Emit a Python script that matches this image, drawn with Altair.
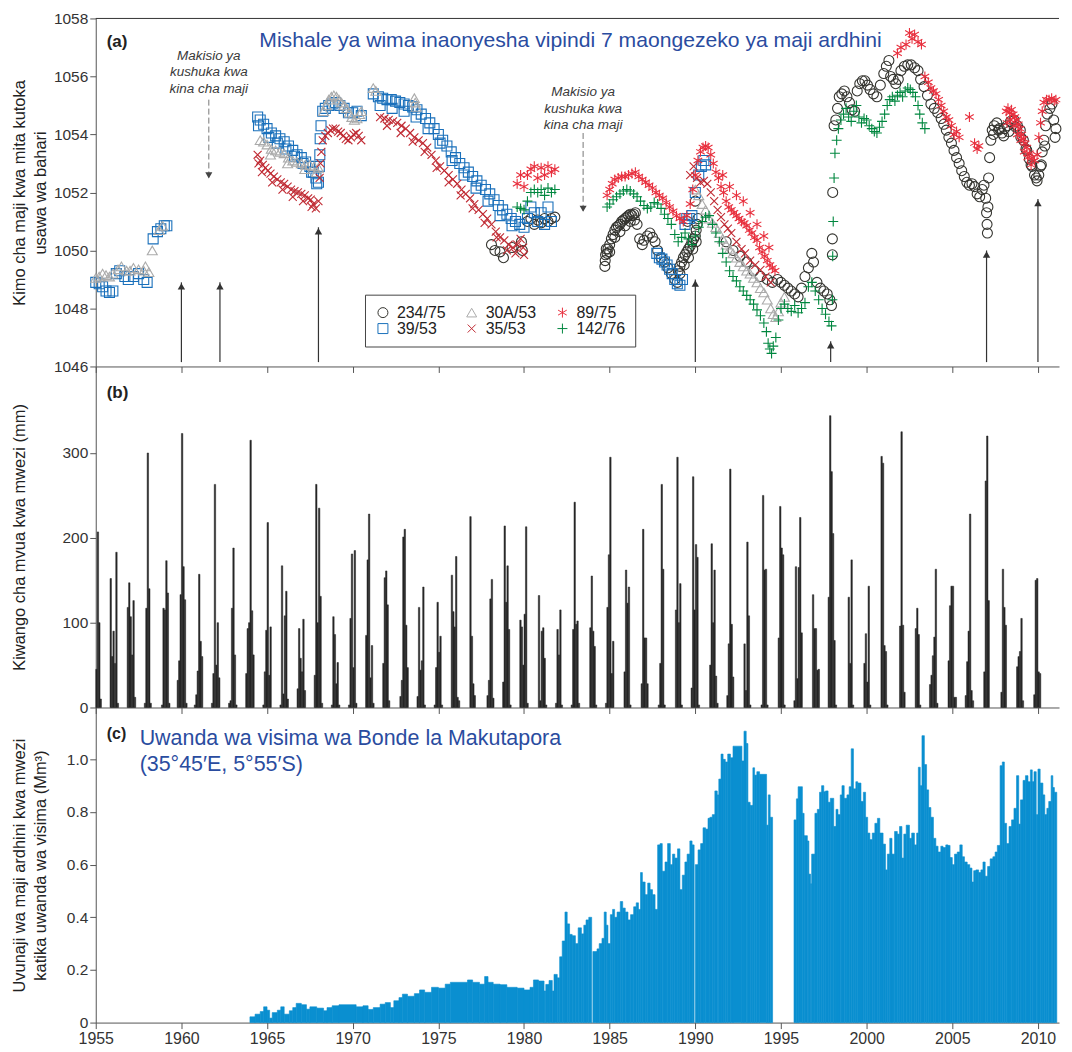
import altair as alt
import pandas as pd

FONT = "Liberation Sans, Arial, sans-serif"
W = 966
HA, HB, HC = 349, 342, 316
X0, X1 = 1955.0, 2011.23
XTICKS = list(range(1955, 2011, 5))

# ---------------- panel (a): groundwater levels (year, m a.s.l.) ----------------
well_234_75 = [
    (1978.1, 1050.2), (1978.3, 1050.0), (1978.6, 1049.95), (1978.8, 1049.75), (1979.3, 1050.1),
    (1979.85, 1050.3), (1979.9, 1050.0), (1980.2, 1051.0), (1980.4, 1051.1), (1980.6, 1050.9),
    (1980.8, 1051.05), (1981.0, 1050.95), (1981.2, 1051.1), (1981.4, 1051.0), (1981.6, 1051.1),
    (1981.8, 1051.15),
    (1984.72, 1049.45), (1984.74, 1049.65), (1984.76, 1049.85), (1984.8, 1050.05), (1984.85, 1049.9),
    (1984.9, 1050.05), (1985.0, 1050.2), (1985.1, 1050.4), (1985.2, 1050.55), (1985.3, 1050.7),
    (1985.4, 1050.8), (1985.5, 1050.85), (1985.6, 1050.9), (1985.7, 1051.0), (1985.8, 1051.05),
    (1985.9, 1051.1), (1986.0, 1051.15), (1986.1, 1051.2), (1986.2, 1051.25), (1986.3, 1051.2),
    (1986.4, 1051.25), (1986.5, 1051.3), (1986.6, 1050.9), (1986.75, 1050.4), (1986.9, 1050.2),
    (1985.0, 1049.95), (1985.3, 1050.45), (1985.6, 1050.65), (1985.9, 1050.85), (1986.2, 1051.0),
    (1986.45, 1051.05),
    (1987.0, 1050.35), (1987.2, 1050.5), (1987.35, 1050.6), (1987.5, 1050.45), (1987.65, 1050.3),
    (1987.8, 1050.0), (1988.0, 1049.75), (1988.2, 1049.6), (1988.4, 1049.4), (1988.6, 1049.2),
    (1988.8, 1049.0), (1988.95, 1048.9), (1989.0, 1049.3), (1989.1, 1049.45), (1989.2, 1049.6),
    (1989.3, 1049.75), (1989.4, 1049.85), (1989.5, 1049.95), (1989.6, 1050.05), (1989.7, 1050.15),
    (1989.8, 1050.3), (1989.9, 1050.4), (1990.0, 1050.5), (1990.05, 1050.7), (1990.1, 1050.9),
    (1990.15, 1051.1), (1989.55, 1051.0), (1990.0, 1051.7),
    (1989.1, 1049.2), (1989.35, 1049.5), (1989.6, 1049.75), (1989.85, 1050.05), (1990.05, 1050.3),
    (1991.8, 1050.3), (1992.2, 1050.0), (1992.6, 1049.8), (1993.0, 1049.6), (1993.4, 1049.3),
    (1993.8, 1049.1), (1994.2, 1049.0), (1994.5, 1048.9), (1994.8, 1049.0), (1995.0, 1048.9),
    (1995.2, 1048.8), (1995.4, 1048.7), (1995.6, 1048.6), (1995.8, 1048.5), (1996.0, 1048.4),
    (1996.2, 1048.7), (1996.4, 1049.1), (1996.6, 1049.4), (1996.8, 1049.9), (1996.9, 1049.6),
    (1997.1, 1048.9), (1997.3, 1048.7), (1997.5, 1048.6), (1997.7, 1048.5), (1997.85, 1048.3),
    (1997.95, 1048.1), (1998.0, 1049.85), (1998.0, 1050.4), (1998.02, 1052.0), (1998.1, 1054.3),
    (1998.2, 1054.5), (1998.3, 1054.9), (1998.4, 1055.3), (1998.55, 1055.4), (1998.7, 1055.5),
    (1998.85, 1055.3), (1999.0, 1055.1), (1999.15, 1054.85), (1999.3, 1054.8), (1999.45, 1055.5),
    (1999.6, 1055.75), (1999.75, 1055.85), (1999.9, 1055.85), (2000.05, 1055.7), (2000.2, 1055.55),
    (2000.4, 1055.4), (2000.6, 1055.3), (2000.8, 1055.7), (2001.0, 1056.1), (2001.15, 1056.35),
    (2001.3, 1056.55), (2001.4, 1056.0), (2001.55, 1055.9), (2001.7, 1055.75), (2001.85, 1055.9),
    (2002.0, 1056.2), (2002.2, 1056.35), (2002.4, 1056.4), (2002.6, 1056.4), (2002.8, 1056.3),
    (2003.0, 1056.2), (2003.15, 1055.9), (2003.35, 1055.65), (2003.55, 1055.35), (2003.75, 1055.05),
    (2003.95, 1054.9), (2004.15, 1054.75), (2004.35, 1054.55), (2004.5, 1054.35), (2004.65, 1054.15),
    (2004.8, 1053.9), (2004.95, 1053.7), (2005.1, 1053.45), (2005.25, 1053.2), (2005.4, 1053.0),
    (2005.55, 1052.75), (2005.7, 1052.55), (2005.85, 1052.35), (2006.0, 1052.25), (2006.15, 1052.3),
    (2006.3, 1052.2), (2006.45, 1051.95), (2006.6, 1051.85), (2006.75, 1052.1), (2006.85, 1052.25),
    (2006.95, 1051.8), (2007.0, 1051.3), (2007.03, 1050.9), (2007.05, 1050.6), (2007.08, 1051.5),
    (2007.12, 1052.5), (2007.18, 1053.2), (2007.25, 1053.8), (2007.33, 1054.15), (2007.45, 1054.3),
    (2007.6, 1054.4), (2007.75, 1054.2), (2007.9, 1054.05), (2008.05, 1054.2), (2008.2, 1054.3),
    (2008.4, 1054.45), (2008.6, 1054.5), (2008.8, 1054.3), (2008.97, 1054.15), (2009.15, 1053.8),
    (2009.35, 1053.45), (2009.5, 1053.15), (2009.65, 1052.9), (2009.8, 1052.6), (2009.95, 1052.4),
    (2010.05, 1052.6), (2010.15, 1052.9), (2010.25, 1053.4), (2010.35, 1053.8), (2010.45, 1054.3),
    (2010.55, 1054.7), (2010.7, 1054.9), (2010.82, 1055.05), (2010.92, 1054.5), (2011.0, 1053.9),
    (2011.05, 1054.2),
    (2007.4, 1054.0), (2007.7, 1054.15), (2008.0, 1053.95), (2008.3, 1054.1), (2008.7, 1054.25),
    (2009.0, 1053.9), (2009.3, 1053.5), (2009.6, 1052.95), (2009.9, 1052.5), (2010.2, 1052.95),
    (2010.4, 1053.6),
]

well_39_53 = [
    (1955.0, 1048.9), (1955.2, 1048.85), (1955.4, 1048.75), (1955.6, 1048.6), (1955.8, 1048.55),
    (1956.0, 1048.6), (1956.2, 1049.2), (1956.4, 1049.3), (1956.7, 1049.1), (1956.9, 1049.0),
    (1957.2, 1049.1), (1957.5, 1049.2), (1957.8, 1049.0), (1958.0, 1048.9), (1958.35, 1050.4),
    (1958.6, 1050.65), (1958.8, 1050.75), (1959.0, 1050.85), (1959.15, 1050.85),
    (1964.45, 1054.6), (1964.6, 1054.5), (1964.8, 1054.35), (1965.0, 1054.2), (1965.25, 1054.05),
    (1965.5, 1053.95), (1965.75, 1053.85), (1966.0, 1053.75), (1966.25, 1053.6), (1966.5, 1053.45),
    (1966.75, 1053.3), (1967.0, 1053.2), (1967.25, 1053.05), (1967.5, 1052.9), (1967.7, 1052.7),
    (1967.85, 1052.5), (1968.0, 1052.35), (1968.05, 1052.9), (1968.08, 1053.3), (1968.1, 1053.85),
    (1968.15, 1054.3), (1968.25, 1054.8), (1968.4, 1054.9), (1968.6, 1055.0), (1968.8, 1055.05),
    (1969.0, 1055.1), (1969.25, 1055.0), (1969.5, 1054.9), (1969.75, 1054.75), (1970.0, 1054.75),
    (1970.25, 1054.8), (1970.5, 1054.65),
    (1964.5, 1054.3), (1965.1, 1053.9), (1965.6, 1053.7), (1966.1, 1053.5), (1966.6, 1053.25),
    (1967.1, 1053.0), (1967.6, 1052.7), (1967.9, 1052.3),
    (1971.2, 1055.4), (1971.5, 1055.3), (1971.75, 1055.25), (1972.0, 1055.2), (1972.25, 1055.2),
    (1972.5, 1055.15), (1972.75, 1055.1), (1973.0, 1055.05), (1973.25, 1055.0), (1973.5, 1054.95),
    (1973.75, 1054.85), (1974.0, 1054.7), (1974.25, 1054.55), (1974.5, 1054.4), (1974.75, 1054.2),
    (1975.0, 1054.0), (1975.25, 1053.8), (1975.5, 1053.6), (1975.75, 1053.4), (1976.0, 1053.2),
    (1976.25, 1053.0), (1976.5, 1052.85), (1976.75, 1052.7), (1977.0, 1052.55), (1977.25, 1052.4),
    (1977.5, 1052.25), (1977.75, 1052.1), (1978.0, 1051.95), (1978.25, 1051.75), (1978.5, 1051.55),
    (1978.75, 1051.4), (1979.0, 1051.25), (1979.25, 1051.1), (1979.5, 1051.0), (1979.75, 1050.9),
    (1980.0, 1050.8), (1980.2, 1051.1), (1980.4, 1051.5), (1980.6, 1051.3), (1980.8, 1051.0),
    (1981.0, 1051.3), (1981.2, 1050.9), (1981.4, 1051.5), (1981.6, 1051.0),
    (1971.6, 1055.0), (1972.3, 1054.9), (1973.0, 1054.8), (1973.7, 1054.6), (1974.4, 1054.2),
    (1975.1, 1053.7), (1975.8, 1053.1), (1976.5, 1052.6), (1977.2, 1052.15), (1977.9, 1051.7),
    (1978.6, 1051.2), (1979.3, 1050.85),
    (1987.75, 1049.9), (1987.9, 1049.75), (1988.05, 1049.7), (1988.2, 1049.6), (1988.35, 1049.5),
    (1988.5, 1049.35), (1988.65, 1049.2), (1988.8, 1049.0), (1988.95, 1048.85), (1989.1, 1048.8),
    (1989.25, 1049.0), (1989.4, 1050.9), (1989.5, 1051.1), (1989.65, 1051.1), (1989.8, 1051.2),
    (1990.0, 1052.0), (1990.2, 1052.6), (1990.35, 1052.9), (1990.5, 1053.1), (1990.6, 1052.95),
]

well_30A_53 = [
    (1955.0, 1049.05), (1955.2, 1049.1), (1955.4, 1049.2), (1955.6, 1049.15), (1955.8, 1049.1),
    (1956.0, 1049.2), (1956.3, 1049.35), (1956.5, 1049.45), (1956.8, 1049.3), (1957.0, 1049.3),
    (1957.2, 1049.4), (1957.5, 1049.35), (1957.8, 1049.3), (1957.9, 1049.45), (1958.1, 1049.25),
    (1958.3, 1050.0), (1958.7, 1050.7), (1958.9, 1050.85),
    (1964.6, 1053.8), (1964.8, 1053.75), (1965.0, 1053.65), (1965.25, 1053.5), (1965.5, 1053.45),
    (1965.75, 1053.4), (1966.0, 1053.35), (1966.25, 1053.2), (1966.5, 1053.1), (1966.75, 1053.05),
    (1967.0, 1053.0), (1967.25, 1052.95), (1967.5, 1052.95), (1967.75, 1052.9), (1968.0, 1052.85),
    (1965.2, 1053.3), (1966.2, 1053.0), (1967.2, 1052.8), (1967.9, 1052.7),
    (1968.3, 1054.8), (1968.45, 1055.0), (1968.6, 1055.2), (1968.75, 1055.3), (1968.9, 1055.35),
    (1969.05, 1055.3), (1969.2, 1055.2), (1969.35, 1055.1), (1969.5, 1055.0), (1969.65, 1054.9),
    (1969.8, 1054.75), (1969.95, 1054.6), (1970.1, 1054.5), (1970.25, 1054.55), (1970.4, 1054.7),
    (1970.5, 1054.8),
    (1971.2, 1055.6), (1971.35, 1055.5), (1973.6, 1055.25), (1973.65, 1055.1), (1973.7, 1054.95),
    (1990.0, 1052.1), (1990.2, 1051.9), (1990.4, 1051.6), (1990.6, 1051.4), (1990.8, 1051.1),
    (1991.0, 1050.95), (1991.2, 1050.8), (1991.4, 1050.6), (1991.6, 1050.4), (1991.8, 1050.2),
    (1992.0, 1050.05), (1992.2, 1049.9), (1992.4, 1049.75), (1992.6, 1049.6), (1992.8, 1049.45),
    (1993.0, 1049.3), (1993.2, 1049.2), (1993.4, 1049.05), (1993.6, 1048.9), (1993.8, 1048.7),
    (1994.0, 1048.55), (1994.2, 1048.3), (1994.4, 1048.0), (1994.55, 1047.8), (1994.7, 1047.7),
    (1994.85, 1047.9), (1995.0, 1048.2), (1995.2, 1048.4),
]

well_35_53 = [
    (1964.45, 1053.3), (1964.6, 1053.1), (1964.75, 1052.95), (1964.9, 1052.85), (1965.05, 1052.75),
    (1965.2, 1052.65), (1965.4, 1052.55), (1965.6, 1052.45), (1965.8, 1052.35), (1966.0, 1052.3),
    (1966.2, 1052.2), (1966.4, 1052.1), (1966.6, 1052.05), (1966.8, 1052.0), (1967.0, 1051.95),
    (1967.2, 1051.9), (1967.4, 1051.8), (1967.55, 1051.75), (1967.7, 1051.6), (1967.85, 1051.45),
    (1968.0, 1051.7), (1968.07, 1052.5), (1968.12, 1053.0), (1968.17, 1053.4), (1968.25, 1053.8),
    (1968.4, 1053.95), (1968.55, 1054.05), (1968.7, 1054.15), (1968.85, 1054.2), (1969.0, 1054.2),
    (1969.15, 1054.1), (1969.3, 1054.05), (1969.45, 1053.95), (1969.6, 1053.85), (1969.75, 1053.8),
    (1969.9, 1053.9), (1970.05, 1054.0), (1970.2, 1054.05), (1970.35, 1053.95), (1970.5, 1053.8),
    (1964.5, 1053.0), (1964.7, 1052.7), (1965.3, 1052.35), (1965.9, 1052.1), (1966.5, 1051.85),
    (1967.1, 1051.7), (1967.6, 1051.5),
    (1971.6, 1054.6), (1971.85, 1054.55), (1972.1, 1054.5), (1972.35, 1054.45), (1972.6, 1054.4),
    (1972.85, 1054.3), (1973.1, 1054.2), (1973.35, 1054.05), (1973.6, 1053.9), (1973.85, 1053.8),
    (1974.1, 1053.7), (1974.35, 1053.55), (1974.6, 1053.3), (1974.85, 1053.1), (1975.1, 1052.9),
    (1975.35, 1052.75), (1975.6, 1052.6), (1975.85, 1052.45), (1976.1, 1052.3), (1976.35, 1052.1),
    (1976.6, 1051.95), (1976.85, 1051.8), (1977.1, 1051.6), (1977.35, 1051.4), (1977.6, 1051.25),
    (1977.85, 1051.1), (1978.1, 1050.9), (1978.35, 1050.65), (1978.6, 1050.45), (1978.85, 1050.35),
    (1979.1, 1050.2), (1979.35, 1050.1), (1979.6, 1050.2), (1979.8, 1050.4), (1979.95, 1050.1),
    (1980.0, 1049.85),
    (1972.0, 1054.3), (1972.8, 1054.05), (1973.5, 1053.75), (1974.2, 1053.4), (1974.9, 1052.85),
    (1975.6, 1052.35), (1976.3, 1051.9), (1977.0, 1051.45), (1977.7, 1050.95), (1978.4, 1050.45),
    (1979.0, 1050.0), (1979.5, 1049.9),
    (1989.7, 1052.6), (1989.9, 1052.9), (1990.1, 1052.5), (1990.3, 1052.35), (1990.5, 1052.4),
    (1990.7, 1052.3), (1990.9, 1052.0), (1991.1, 1051.7), (1991.3, 1051.4), (1991.5, 1051.15),
    (1991.7, 1050.9), (1991.9, 1050.75), (1992.1, 1050.6), (1992.4, 1050.3), (1992.7, 1050.05),
    (1992.9, 1049.9), (1993.2, 1049.65), (1993.5, 1049.5), (1993.8, 1049.33), (1994.1, 1049.1),
    (1994.4, 1048.9),
]

well_89_75 = [
    (1979.6, 1052.3), (1979.8, 1052.6), (1980.0, 1052.2), (1980.2, 1052.6), (1980.4, 1052.8),
    (1980.6, 1052.9), (1980.8, 1052.5), (1981.0, 1052.85), (1981.2, 1052.6), (1981.4, 1052.9),
    (1981.6, 1052.7), (1981.8, 1052.8),
    (1984.85, 1051.9), (1985.0, 1052.1), (1985.15, 1052.3), (1985.3, 1052.45), (1985.5, 1052.5),
    (1985.7, 1052.55), (1985.9, 1052.55), (1986.1, 1052.6), (1986.3, 1052.65), (1986.5, 1052.7),
    (1986.7, 1052.55), (1986.9, 1052.45), (1987.1, 1052.35), (1987.3, 1052.25), (1987.5, 1052.15),
    (1987.7, 1052.0), (1987.9, 1051.9), (1988.1, 1051.8), (1988.3, 1051.65), (1988.5, 1051.5),
    (1988.7, 1051.35), (1988.9, 1051.2), (1989.1, 1051.1), (1989.3, 1051.0), (1989.5, 1051.2),
    (1989.7, 1051.6), (1989.85, 1052.1), (1990.0, 1052.6), (1990.15, 1053.1), (1990.3, 1053.4),
    (1990.45, 1053.55), (1990.6, 1053.6), (1990.75, 1053.55), (1990.9, 1053.3), (1991.05, 1053.0),
    (1991.2, 1052.7), (1991.35, 1052.5), (1991.5, 1052.2), (1991.65, 1052.0), (1991.8, 1051.7),
    (1991.95, 1051.5), (1992.1, 1051.4), (1992.25, 1051.3), (1992.4, 1051.2), (1992.55, 1051.1),
    (1992.7, 1051.0), (1992.85, 1050.95), (1993.0, 1050.85), (1993.15, 1050.7), (1993.3, 1050.6),
    (1993.45, 1050.45), (1993.6, 1050.35), (1993.75, 1050.1), (1993.9, 1049.95), (1994.05, 1049.8),
    (1994.2, 1049.65), (1994.35, 1049.5), (1994.5, 1049.4), (1994.65, 1049.3),
    (1991.6, 1052.6), (1992.0, 1052.2), (1992.4, 1051.9), (1992.8, 1051.7), (1993.2, 1051.3),
    (1993.6, 1050.9), (1994.0, 1050.5), (1994.3, 1050.1),
    (2001.8, 1056.8), (2002.0, 1057.0), (2002.3, 1057.1), (2002.5, 1057.5), (2002.65, 1057.3),
    (2002.8, 1057.45), (2003.0, 1057.2), (2003.2, 1057.1), (2003.4, 1056.0), (2003.6, 1055.8),
    (2003.75, 1055.6), (2003.9, 1055.5), (2004.05, 1055.4), (2004.2, 1055.2), (2004.35, 1055.0),
    (2004.5, 1054.8), (2004.65, 1054.6), (2004.8, 1054.5), (2004.95, 1054.3), (2005.1, 1054.0),
    (2005.25, 1054.1), (2005.4, 1053.9), (2006.0, 1054.6), (2006.3, 1053.7), (2006.45, 1053.5),
    (2006.55, 1053.6),
    (2008.15, 1054.8), (2008.25, 1054.9), (2008.35, 1054.75), (2008.45, 1054.85), (2008.55, 1054.7),
    (2008.65, 1054.6), (2008.75, 1054.5), (2008.85, 1054.35), (2008.95, 1054.2), (2009.05, 1054.0),
    (2009.15, 1053.85), (2009.25, 1053.7), (2009.35, 1053.55), (2009.5, 1053.35), (2009.65, 1053.2),
    (2009.8, 1053.1), (2009.95, 1053.3), (2010.05, 1053.9), (2010.15, 1054.4), (2010.25, 1054.8),
    (2010.35, 1055.1), (2010.5, 1055.2), (2010.65, 1055.2), (2010.8, 1055.25), (2010.95, 1055.15),
    (2011.05, 1055.2),
    (2008.2, 1054.4), (2008.4, 1054.5), (2008.6, 1054.3), (2008.8, 1054.0), (2009.0, 1053.8),
    (2009.2, 1053.4), (2009.4, 1053.2), (2009.6, 1052.95),
]

well_142_76 = [
    (1979.6, 1051.5), (1979.8, 1051.45), (1980.0, 1051.4), (1980.2, 1051.7), (1980.4, 1052.0),
    (1980.6, 1052.1), (1980.8, 1052.0), (1981.0, 1052.1), (1981.2, 1051.9), (1981.4, 1052.15),
    (1981.6, 1052.0), (1981.8, 1052.1),
    (1984.85, 1051.5), (1985.0, 1051.6), (1985.2, 1051.75), (1985.4, 1051.85), (1985.6, 1051.95),
    (1985.8, 1052.05), (1986.0, 1052.1), (1986.2, 1052.05), (1986.4, 1051.95), (1986.6, 1051.85),
    (1986.8, 1051.7), (1987.0, 1051.55), (1987.2, 1051.45), (1987.4, 1051.5), (1987.6, 1051.65),
    (1987.8, 1051.6), (1988.0, 1051.45), (1988.2, 1051.25), (1988.4, 1051.1), (1988.6, 1050.9),
    (1988.8, 1050.55), (1989.0, 1050.3), (1989.2, 1050.45), (1989.4, 1050.6), (1989.6, 1050.4),
    (1989.8, 1050.2), (1990.0, 1050.5), (1990.2, 1050.8), (1990.4, 1051.0), (1990.6, 1051.15),
    (1990.8, 1051.2), (1991.0, 1050.9), (1991.2, 1050.6), (1991.4, 1050.3), (1991.6, 1049.9),
    (1991.8, 1049.6), (1992.0, 1049.3), (1992.2, 1049.1), (1992.4, 1048.95), (1992.6, 1048.75),
    (1992.8, 1048.6), (1993.0, 1048.45), (1993.2, 1048.3), (1993.4, 1048.15), (1993.6, 1047.95),
    (1993.8, 1047.75), (1994.0, 1047.5), (1994.15, 1047.2), (1994.25, 1046.8), (1994.35, 1046.6),
    (1994.45, 1046.45), (1994.55, 1046.7), (1994.7, 1047.0), (1994.85, 1047.6), (1995.0, 1048.0),
    (1995.2, 1048.15), (1995.4, 1048.0), (1995.6, 1047.9), (1995.8, 1048.1), (1996.0, 1047.85),
    (1996.2, 1048.0), (1996.4, 1048.2), (1996.6, 1048.75), (1996.8, 1048.9), (1997.0, 1048.6),
    (1997.2, 1048.3), (1997.4, 1048.0), (1997.6, 1047.8), (1997.8, 1047.55), (1997.95, 1047.4),
    (1998.0, 1048.3), (1998.02, 1049.8), (1998.05, 1051.0), (1998.1, 1052.5), (1998.15, 1053.35),
    (1998.25, 1053.8), (1998.35, 1054.2), (1998.5, 1054.5), (1998.65, 1054.7), (1998.8, 1054.9),
    (1998.95, 1054.6), (1999.1, 1054.45), (1999.25, 1054.8), (1999.4, 1055.0), (1999.55, 1054.6),
    (1999.7, 1054.4), (1999.85, 1054.55), (2000.0, 1054.5), (2000.15, 1054.3), (2000.3, 1054.2),
    (2000.45, 1054.1), (2000.6, 1054.05), (2000.75, 1054.25), (2000.9, 1054.45), (2001.05, 1054.7),
    (2001.2, 1055.0), (2001.35, 1055.2), (2001.5, 1055.3), (2001.65, 1055.15), (2001.8, 1055.35),
    (2001.95, 1055.45), (2002.1, 1055.3), (2002.25, 1055.5), (2002.4, 1055.6), (2002.55, 1055.55),
    (2002.7, 1055.45), (2002.85, 1055.3), (2003.0, 1055.0), (2003.1, 1054.7), (2003.25, 1054.4),
    (2003.4, 1054.2),
]

legend_order = ["234/75", "39/53", "30A/53", "35/53", "89/75", "142/76"]
well_colors = ["#34342f", "#1a70bb", "#ababab", "#c02a33", "#e8303e", "#00873f"]
well_shapes = [
    "circle",
    "square",
    "triangle-up",
    "M-0.8,-0.8L0.8,0.8M-0.8,0.8L0.8,-0.8",
    "M0,-1L0,1M-0.87,-0.5L0.87,0.5M-0.87,0.5L0.87,-0.5",
    "M-1,0L1,0M0,-1L0,1",
]

# recharge arrows (year, tip level) and estimated-decline dashed arrows
arrow_year = [1960.0, 1962.25, 1968.0, 1990.0, 1997.9, 2007.0, 2010.0]
arrow_tip = [1048.9, 1048.9, 1050.8, 1049.0, 1046.87, 1050.0, 1051.77]
arrow_base = 1046.15
dash_year = [1961.6, 1983.45]
dash_top = [1055.2, 1054.05]
dash_tip = [1052.45, 1051.3]
note_level = [1056.95, 1055.7]
note_text = "Makisio ya\nkushuka kwa\nkina cha maji"

# ---------------- panel (b): monthly rainfall (mm) ----------------
rain_start = [(1955, 1), (1955, 11), (1956, 11), (1957, 11), (1958, 11), (1959, 10), (1960, 10),
              (1961, 10), (1962, 10), (1963, 10), (1964, 10), (1965, 10), (1966, 10), (1967, 10),
              (1968, 10), (1969, 10), (1970, 10), (1971, 10), (1972, 10), (1973, 10), (1974, 10),
              (1975, 10), (1976, 11), (1977, 11), (1978, 10), (1979, 10), (1980, 11), (1981, 11),
              (1982, 10), (1983, 11), (1984, 10), (1985, 11), (1986, 11), (1987, 11), (1988, 11),
              (1989, 10), (1990, 11), (1991, 11), (1992, 11), (1993, 11), (1994, 11), (1995, 10),
              (1996, 11), (1997, 10), (1998, 12), (1999, 11), (2000, 11), (2001, 12), (2002, 11),
              (2003, 9), (2004, 10), (2005, 10), (2006, 11), (2007, 11), (2008, 10), (2009, 10)]
rain_mm = [
    [45, 207, 100, 10], [152, 60, 90, 52, 183, 5], [118, 147, 107, 62, 126, 12], [5, 117, 300, 140, 5],
    [3, 117, 115, 173, 135, 5], [32, 55, 133, 323, 166, 127, 5], [3, 15, 43, 157, 78, 60],
    [5, 40, 263, 50, 100, 35], [5, 8, 117, 188, 62, 3], [40, 93, 100, 315, 114, 62],
    [3, 42, 91, 218, 38, 95], [3, 167, 16, 108, 137, 10], [22, 93, 58, 42, 104, 20],
    [38, 263, 100, 235, 131, 5], [3, 107, 86, 28, 53, 3], [3, 105, 181, 47, 185, 5],
    [85, 174, 228, 35, 73, 5], [52, 153, 161, 121, 8], [13, 32, 201, 210, 97, 47],
    [13, 118, 44, 55, 142, 3], [3, 47, 124, 65, 84, 3], [156, 113, 95, 178, 12, 8],
    [225, 84, 28, 14], [14, 32, 128, 151, 11], [30, 214, 124, 167, 92, 3], [103, 95, 50, 110, 213, 5],
    [132, 8, 90, 94, 58, 3], [5, 92, 62, 115, 3], [3, 92, 242, 98, 102, 5], [94, 155, 90, 72, 3],
    [5, 118, 180, 295, 40, 78], [42, 162, 123, 142, 3], [28, 210, 82, 82, 28], [3, 52, 263, 163, 3],
    [115, 295, 100, 146, 3], [23, 272, 115, 192, 177, 3], [50, 193, 100, 162, 37, 5],
    [14, 75, 281, 98, 36], [75, 20, 195, 108, 3], [3, 250, 162, 163, 3], [82, 237, 188, 180, 3],
    [8, 166, 34, 165, 224, 88], [133, 93, 93, 44, 45], [130, 344, 278, 205, 79, 3], [130, 52, 174, 3],
    [52, 87, 30, 143, 3], [296, 288, 73, 66, 3], [96, 325, 97, 18], [93, 117, 86, 3],
    [27, 38, 61, 83, 163, 5], [55, 120, 143, 143, 12, 12], [14, 54, 90, 228, 20, 8],
    [42, 267, 320, 126], [18, 163, 118, 97], [48, 60, 66, 105, 8], [15, 150, 152, 42, 40],
]

# ---------------- panel (c): monthly abstraction (Mm3), (period start, value) ----------------
abstraction = [
    (1964.0, 0.022), (1964.3, 0.032), (1964.6, 0.042), (1964.8, 0.06), (1965.0, 0.047), (1965.15, 0.017),
    (1965.3, 0.038), (1965.6, 0.047), (1965.8, 0.06), (1966.0, 0.032), (1966.3, 0.045), (1966.5, 0.057),
    (1966.7, 0.073), (1967.0, 0.068), (1967.3, 0.051), (1967.5, 0.06), (1967.9, 0.055), (1968.3, 0.045),
    (1968.5, 0.057), (1968.8, 0.064), (1969.2, 0.068), (1970.2, 0.06), (1970.6, 0.064), (1970.9, 0.05),
    (1971.2, 0.057), (1971.6, 0.07), (1971.9, 0.076), (1972.2, 0.057), (1972.4, 0.083), (1972.7, 0.095),
    (1972.9, 0.108), (1973.2, 0.10), (1973.6, 0.11), (1973.9, 0.124), (1974.2, 0.115), (1974.6, 0.134),
    (1975.0, 0.131), (1975.4, 0.146), (1975.7, 0.153), (1976.7, 0.162), (1977.0, 0.153), (1977.4, 0.146),
    (1977.7, 0.175), (1977.9, 0.153), (1978.2, 0.146), (1978.6, 0.144), (1979.0, 0.134), (1979.6, 0.131),
    (1980.0, 0.124), (1980.35, 0.134), (1980.55, 0.162), (1980.85, 0.158), (1981.17, 0.12),
    (1981.27, 0.145), (1981.46, 0.16), (1981.65, 0.12), (1981.75, 0.183), (1981.94, 0.17),
    (1982.08, 0.25), (1982.23, 0.31), (1982.39, 0.42), (1982.52, 0.375), (1982.66, 0.335),
    (1982.81, 0.33), (1983.0, 0.30), (1983.16, 0.36), (1983.35, 0.337), (1983.49, 0.37),
    (1983.62, 0.39), (1983.78, 0.40), (1983.95, None), (1984.02, 0.27), (1984.26, 0.28),
    (1984.39, 0.30), (1984.55, 0.32), (1984.68, 0.42), (1984.8, 0.37), (1984.9, 0.30),
    (1985.04, 0.41), (1985.17, 0.43), (1985.29, 0.40), (1985.43, 0.42), (1985.62, 0.46),
    (1985.76, 0.435), (1985.91, 0.42), (1986.07, 0.39), (1986.22, 0.41), (1986.4, 0.44),
    (1986.55, 0.455), (1986.68, 0.43), (1986.8, 0.57), (1986.91, 0.534), (1987.07, 0.486),
    (1987.22, 0.53), (1987.36, 0.505), (1987.5, 0.486), (1987.65, 0.43), (1987.8, 0.675),
    (1987.94, 0.68), (1988.07, 0.575), (1988.23, 0.61), (1988.38, 0.68), (1988.54, 0.60),
    (1988.67, 0.64), (1988.8, 0.625), (1988.96, 0.66), (1989.1, 0.505), (1989.24, 0.56),
    (1989.39, 0.61), (1989.52, 0.64), (1989.68, 0.69), (1989.81, 0.675), (1989.93, None),
    (1990.0, 0.60), (1990.16, 0.656), (1990.31, 0.68), (1990.45, 0.74), (1990.6, 0.735),
    (1990.74, 0.776), (1990.85, 0.78), (1990.99, 0.79), (1991.14, 0.88), (1991.28, 0.865),
    (1991.37, 0.925), (1991.5, 1.02), (1991.62, 1.00), (1991.75, 0.99), (1991.89, 1.02),
    (1992.05, 1.006), (1992.2, 1.05), (1992.72, 0.994), (1992.84, 1.107), (1992.97, 1.06),
    (1993.07, 0.837), (1993.2, 0.825), (1993.36, 0.968), (1993.46, 0.94), (1993.59, 0.953),
    (1993.75, 0.943), (1994.16, 0.75), (1994.26, 0.865), (1994.37, 0.78), (1994.51, None),
    (1995.76, 0.77), (1995.9, 0.85), (1996.0, 0.896), (1996.25, 0.795), (1996.35, 0.71),
    (1996.54, 0.69), (1996.63, 0.564), (1996.73, 0.527), (1996.79, 0.64), (1996.98, 0.795),
    (1997.12, 0.81), (1997.25, 0.875), (1997.37, 0.90), (1997.5, 0.877), (1997.6, 0.88),
    (1997.75, 0.837), (1997.88, 0.852), (1998.08, 0.745), (1998.21, 0.81), (1998.33, 0.79),
    (1998.46, 0.865), (1998.56, 0.90), (1998.69, 0.852), (1998.85, 0.865), (1998.98, 0.896),
    (1999.1, 1.04), (1999.23, 0.888), (1999.37, 0.915), (1999.48, 0.91), (1999.67, 0.84),
    (1999.81, 0.875), (1999.94, 0.78), (2000.06, 0.72), (2000.19, 0.695), (2000.33, 0.72),
    (2000.48, 0.757), (2000.63, 0.776), (2000.77, 0.72), (2000.96, 0.678), (2001.1, 0.58),
    (2001.21, 0.64), (2001.35, 0.70), (2001.48, 0.64), (2001.63, 0.726), (2001.79, 0.716),
    (2001.92, 0.745), (2002.06, 0.625), (2002.17, 0.716), (2002.31, 0.75), (2002.5, 0.70),
    (2002.63, 0.72), (2002.79, 0.675), (2002.92, 0.72), (2003.02, 0.97), (2003.13, 0.90),
    (2003.23, 1.09), (2003.37, 0.98), (2003.5, 0.884), (2003.62, 0.817), (2003.75, 0.78),
    (2003.9, 0.70), (2004.04, 0.67), (2004.17, 0.648), (2004.33, 0.67), (2004.46, 0.665),
    (2004.62, 0.675), (2004.75, 0.673), (2004.87, 0.627), (2005.0, 0.60), (2005.13, 0.64),
    (2005.29, 0.648), (2005.44, 0.675), (2005.58, 0.63), (2005.71, 0.61), (2005.87, 0.60),
    (2006.02, 0.587), (2006.15, 0.534), (2006.25, 0.577), (2006.38, 0.58), (2006.54, 0.57),
    (2006.67, 0.58), (2006.79, 0.61), (2006.92, 0.556), (2007.06, 0.593), (2007.21, 0.622),
    (2007.37, 0.63), (2007.5, 0.648), (2007.63, 0.673), (2007.79, 0.976), (2007.92, 0.99),
    (2008.04, 0.757), (2008.17, 0.68), (2008.31, 0.745), (2008.46, 0.77), (2008.6, 0.814),
    (2008.75, 0.938), (2008.88, 0.754), (2008.98, 0.846), (2009.13, 0.92), (2009.27, 0.938),
    (2009.42, 0.915), (2009.56, 0.96), (2009.67, 0.915), (2009.77, 0.953), (2009.9, 0.79),
    (2010.0, 0.963), (2010.13, 0.91), (2010.29, 0.865), (2010.4, 0.79), (2010.52, 0.814),
    (2010.63, 0.84), (2010.77, 0.938), (2010.87, 0.893), (2010.96, 0.875),
]
abstraction_end = 2011.1

# ---------------- build tables ----------------
draw_order = [("234/75", well_234_75), ("39/53", well_39_53), ("30A/53", well_30A_53),
              ("142/76", well_142_76), ("35/53", well_35_53), ("89/75", well_89_75)]
rows = []
for k, (name, pts) in enumerate(draw_order):
    for t, v in pts:
        rows.append({"yr": t, "lvl": v, "well": name, "ord": k})
df_pts = pd.DataFrame(rows)

df_arrow = pd.DataFrame({"yr": arrow_year, "lvl": arrow_tip, "lvl2": [arrow_base] * len(arrow_year)})
df_dash = pd.DataFrame({"yr": dash_year, "lvl": dash_top, "lvl2": dash_tip})
df_dash_head = pd.DataFrame({"yr": dash_year, "lvl": dash_tip})
df_note = pd.DataFrame({"yr": dash_year, "lvl": note_level, "txt": [note_text] * 2})

rrows = []
for (y, m), vals in zip(rain_start, rain_mm):
    for i, v in enumerate(vals):
        t0 = y + (m - 1 + i) / 12.0
        rrows.append({"t0": t0, "t1": t0 + 1 / 12.0, "mm": v})
df_rain = pd.DataFrame(rrows)

arows = []
for i, (t, v) in enumerate(abstraction):
    t1 = abstraction[i + 1][0] if i + 1 < len(abstraction) else abstraction_end
    if v is not None:
        arows.append({"t0": t, "t1": t1, "q": v})
df_abs = pd.DataFrame(arows)

# ---------------- scales / axes ----------------
xs = alt.Scale(domain=[X0, X1], nice=False, zero=False)
ax_x_mid = alt.Axis(values=XTICKS, labels=False, title=None, grid=False, tickSize=6)
ax_x_bot = alt.Axis(values=XTICKS, format="d", title=None, grid=False, tickSize=6,
                    labelFontSize=16, labelPadding=2, labelFlush=False)

TITLE_X = -68
ax_y_a = alt.Axis(values=list(range(1046, 1059, 2)), format="d",
                  title=["Kimo cha maji kwa mita kutoka", "usawa wa bahari"],
                  titleX=TITLE_X, titleY=HA / 2, titleAngle=270, titleAlign="center",
                  titleBaseline="bottom", titleLineHeight=21, labelPadding=2)
ax_y_b = alt.Axis(values=[0, 100, 200, 300], format="d",
                  title="Kiwango cha mvua kwa mwezi (mm)",
                  titleX=TITLE_X, titleY=HB / 2, titleAngle=270, titleAlign="center",
                  titleBaseline="bottom", labelPadding=2)
ax_y_c = alt.Axis(values=[0, 0.2, 0.4, 0.6, 0.8, 1.0],
                  labelExpr="datum.value == 0 ? '0' : format(datum.value, '.1f')",
                  title=["Uvunaji wa maji ardhini kwa mwezi", "katika uwanda wa visima (Mm³)"],
                  titleX=TITLE_X, titleY=HC / 2, titleAngle=270, titleAlign="center",
                  titleBaseline="bottom", titleLineHeight=21, labelPadding=2)

X_a = alt.X("yr:Q", scale=xs, axis=ax_x_mid)
Y_a = alt.Y("lvl:Q", scale=alt.Scale(domain=[1046, 1058], nice=False, zero=False), axis=ax_y_a)

leg = alt.Legend(title=None, orient="none", legendX=270, legendY=277, columns=3,
                 strokeColor="#444", fillColor="white", padding=10, labelFontSize=16,
                 labelFont=FONT, labelColor="#222", symbolSize=100, symbolStrokeWidth=1,
                 labelOffset=6, columnPadding=18, rowPadding=0)


def label(txt, x, y, size, color="#222", weight="bold"):
    return alt.Chart(pd.DataFrame({"t": [txt]})).mark_text(
        align="left", baseline="alphabetic", fontSize=size, fontWeight=weight,
        font=FONT, color=color).encode(x=alt.value(x), y=alt.value(y), text="t:N")


TITLE_BLUE = "#2a4c9f"
BAR_BLUE = "#0a8fd0"

top_rule = alt.Chart(pd.DataFrame({"v": [0]})).mark_rule(color="#333", strokeWidth=1).encode(
    x=alt.value(0), x2=alt.value(W), y=alt.value(0))

pts = alt.Chart(df_pts).mark_point(filled=False, size=100, strokeWidth=1.1, opacity=1).encode(
    x=X_a, y=Y_a,
    color=alt.Color("well:N", scale=alt.Scale(domain=legend_order, range=well_colors), legend=leg),
    shape=alt.Shape("well:N", scale=alt.Scale(domain=legend_order, range=well_shapes), legend=leg),
    order=alt.Order("ord:Q"),
)

arr_rule = alt.Chart(df_arrow).mark_rule(color="#333", strokeWidth=1.2).encode(x=X_a, y=Y_a, y2="lvl2:Q")
arr_head = alt.Chart(df_arrow).mark_point(shape="triangle-up", filled=True, size=55, color="#333",
                                          opacity=1, yOffset=4).encode(x=X_a, y=Y_a)
dash_rule = alt.Chart(df_dash).mark_rule(color="#777", strokeWidth=1, strokeDash=[6, 3]).encode(
    x=X_a, y=Y_a, y2="lvl2:Q")
dash_head = alt.Chart(df_dash_head).mark_point(shape="triangle-down", filled=True, size=50,
                                               color="#444", opacity=1, yOffset=-4).encode(x=X_a, y=Y_a)
notes = alt.Chart(df_note).mark_text(align="center", baseline="top", fontStyle="italic", fontSize=13.5,
                                     lineHeight=16.5, lineBreak="\n", font=FONT, color="#3a3a3a").encode(
    x=X_a, y=Y_a, text="txt:N")

pa = alt.layer(
    top_rule, pts, arr_rule, arr_head, dash_rule, dash_head, notes,
    label("(a)", 11, 29, 17),
    label("Mishale ya wima inaonyesha vipindi 7 maongezeko ya maji ardhini", 164, 29, 21.2,
          TITLE_BLUE, "normal"),
).properties(width=W, height=HA)

bars_b = alt.Chart(df_rain).mark_bar(color="#262626", stroke="#262626", strokeWidth=0.5).encode(
    x=alt.X("t0:Q", scale=xs, axis=ax_x_mid), x2="t1:Q",
    y=alt.Y("mm:Q", scale=alt.Scale(domain=[0, 402], nice=False), axis=ax_y_b),
    y2=alt.datum(0))
pb = alt.layer(bars_b, label("(b)", 11, 32, 17)).properties(width=W, height=HB)

bars_c = alt.Chart(df_abs).mark_bar(color=BAR_BLUE, stroke=BAR_BLUE, strokeWidth=0.6).encode(
    x=alt.X("t0:Q", scale=xs, axis=ax_x_bot), x2="t1:Q",
    y=alt.Y("q:Q", scale=alt.Scale(domain=[0, 1.197], nice=False), axis=ax_y_c),
    y2=alt.datum(0))
pc = alt.layer(
    bars_c,
    label("(c)", 11, 32, 16),
    label("Uwanda wa visima wa Bonde la Makutapora", 44, 38, 21.5, TITLE_BLUE, "normal"),
    label("(35°45′E, 5°55′S)", 44, 64, 21.5, TITLE_BLUE, "normal"),
).properties(width=W, height=HC)

chart = alt.vconcat(pa, pb, pc, spacing=0, bounds="flush").configure_view(stroke=None).configure_axis(
    grid=False, labelFont=FONT, titleFont=FONT, labelFontSize=15.5, titleFontSize=16.5,
    titleFontWeight="normal", labelColor="#333", titleColor="#222", domainColor="#555",
    tickColor="#555", tickSize=6, domainWidth=1, tickWidth=1,
).properties(padding={"left": 4, "top": 2, "right": 0, "bottom": 0})

chart.save("out.html", embed_options={"renderer": "svg", "actions": False})
